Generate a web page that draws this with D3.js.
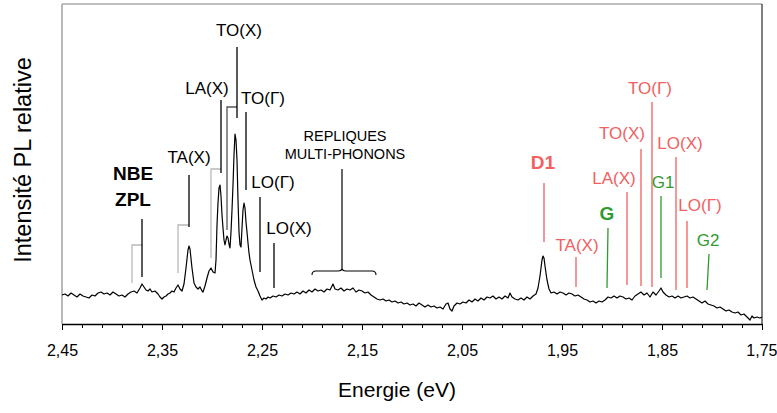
<!DOCTYPE html>
<html><head><meta charset="utf-8">
<script src="https://cdn.jsdelivr.net/npm/d3@7"></script>
<style>
html,body{margin:0;padding:0;background:#fff;}
svg{display:block;font-family:"Liberation Sans",Arial,sans-serif;}
</style></head>
<body>
<svg id="chart" width="777" height="413"></svg>
<script>
// ---- DATA ----
// Energy (eV), relative PL intensity (arbitrary units)
const spectrum = [
[2.450,29],[2.447,30],[2.444,28],[2.441,31],[2.438,29],[2.435,27],[2.432,30],[2.429,28],[2.426,27],[2.423,26],
[2.420,29],[2.417,28],[2.414,31],[2.411,32],[2.408,30],[2.405,31],[2.402,29],[2.399,32],[2.396,30],[2.393,28],
[2.390,29],[2.387,27],[2.384,30],[2.381,32],[2.378,33],[2.375,31],[2.372,36],[2.370,40],[2.368,37],[2.366,34],
[2.364,33],[2.362,35],[2.360,32],[2.357,33],[2.354,30],[2.352,27],[2.350,25],[2.348,27],[2.346,28],[2.344,30],
[2.342,31],[2.340,33],[2.338,32],[2.336,36],[2.334,39],[2.332,35],[2.330,33],[2.328,40],[2.326,56],[2.324,74],
[2.323,78],[2.322,75],[2.320,56],[2.318,41],[2.316,37],[2.314,35],[2.312,37],[2.310,33],[2.309,32],[2.307,38],
[2.305,46],[2.303,53],[2.301,56],[2.299,52],[2.297,51],[2.296,64],[2.295,99],[2.294,121],[2.293,136],[2.292,139],
[2.291,128],[2.290,109],[2.289,96],[2.288,84],[2.287,79],[2.286,84],[2.285,88],[2.284,86],[2.283,80],[2.282,76],
[2.281,92],[2.280,114],[2.279,139],[2.278,169],[2.277,190],[2.276,184],[2.275,164],[2.274,124],[2.273,92],[2.272,79],
[2.271,77],[2.270,96],[2.269,114],[2.268,121],[2.267,116],[2.266,102],[2.265,92],[2.264,81],[2.263,71],[2.262,64],
[2.260,54],[2.258,44],[2.256,37],[2.254,33],[2.252,28],[2.250,24],[2.248,26],[2.246,25],[2.244,27],[2.242,26],
[2.239,28],[2.236,27],[2.233,29],[2.230,28],[2.227,30],[2.224,29],[2.221,31],[2.218,30],[2.215,32],[2.212,30],
[2.209,33],[2.206,31],[2.203,34],[2.200,32],[2.197,35],[2.194,33],[2.191,34],[2.188,32],[2.185,35],[2.182,34],
[2.179,40],[2.177,35],[2.174,34],[2.171,36],[2.168,33],[2.165,35],[2.162,34],[2.159,36],[2.156,32],[2.153,34],
[2.150,33],[2.147,31],[2.144,32],[2.141,29],[2.138,27],[2.135,25],[2.132,24],[2.129,25],[2.126,23],[2.123,24],
[2.120,22],[2.117,23],[2.114,21],[2.111,22],[2.108,20],[2.105,21],[2.102,19],[2.099,20],[2.096,18],[2.093,21],
[2.090,19],[2.087,17],[2.084,19],[2.081,17],[2.078,18],[2.075,16],[2.072,17],[2.069,15],[2.066,20],[2.064,21],
[2.062,15],[2.060,13],[2.058,18],[2.055,21],[2.052,20],[2.049,22],[2.046,21],[2.043,24],[2.040,22],[2.037,25],
[2.034,23],[2.031,26],[2.028,24],[2.025,27],[2.022,26],[2.019,28],[2.016,25],[2.013,27],[2.010,25],[2.007,28],
[2.004,26],[2.002,31],[2.000,27],[1.997,25],[1.994,24],[1.991,26],[1.988,24],[1.985,27],[1.982,25],[1.979,28],
[1.976,30],[1.974,36],[1.972,48],[1.970,64],[1.969,68],[1.968,66],[1.967,58],[1.965,44],[1.963,35],[1.961,31],
[1.958,32],[1.955,30],[1.952,32],[1.949,31],[1.946,29],[1.943,31],[1.940,30],[1.937,28],[1.934,29],[1.931,27],
[1.928,25],[1.925,24],[1.922,22],[1.919,23],[1.916,21],[1.913,23],[1.910,22],[1.907,24],[1.904,27],[1.901,26],
[1.898,28],[1.895,26],[1.892,28],[1.889,27],[1.886,25],[1.883,26],[1.880,24],[1.877,28],[1.874,30],[1.871,32],
[1.868,29],[1.865,31],[1.862,27],[1.859,32],[1.856,29],[1.853,33],[1.851,36],[1.849,32],[1.846,29],[1.843,27],
[1.840,28],[1.837,26],[1.834,28],[1.831,26],[1.828,27],[1.825,28],[1.822,26],[1.819,27],[1.816,25],[1.813,23],
[1.810,21],[1.807,23],[1.804,20],[1.801,19],[1.798,18],[1.795,16],[1.792,17],[1.789,15],[1.786,13],[1.783,14],
[1.780,12],[1.777,11],[1.774,12],[1.771,9],[1.768,10],[1.765,7],[1.762,4],[1.760,8],[1.758,6],[1.755,7],
[1.752,6],[1.750,7]
];

const xTicks = [2.45, 2.35, 2.25, 2.15, 2.05, 1.95, 1.85, 1.75];
const xMinorTicks = d3.range(0, 36).map(i => +(2.45 - i * 0.02).toFixed(2));

// Silicon phonon replicas (black group): label, energy of line, top & bottom intensity
const siLabels   = ["NBE\nZPL", "TA(X)", "LA(X)", "TO(X)", "TO(Γ)", "LO(Γ)", "LO(X)"];
const siEnergy   = [2.370, 2.323, 2.291, 2.275, 2.266, 2.252, 2.238];
const siTop      = [105, 149, 224, 277, 212, 127, 81];
const siBottom   = [47, 97, 151, 206, 134, 52, 36];
// brackets linking a replica to its shifted partner
const brEnergy   = [2.380, 2.334, 2.301, 2.285];
const brTarget   = [2.370, 2.323, 2.291, 2.275];
const brTop      = [79, 99, 155, 217];
const brBottom   = [41, 51, 66, 94];

// Multi-phonon replicas
const multiLabel = ["REPLIQUES", "MULTI-PHONONS"];
const multiEnergy = 2.170, multiTop = 155, multiBottom = 56;
const braceRange = [2.200, 2.136];

// Defect lines (red: D1 and its replicas, green: G lines)
const dLabels  = ["D1", "TA(X)", "G", "LA(X)", "TO(X)", "TO(Γ)", "G1", "LO(X)", "LO(Γ)", "G2"];
const dGroup   = ["D", "D", "G", "D", "D", "D", "G", "D", "D", "G"];
const dEnergyTop = [1.968, 1.936, 1.904, 1.885, 1.871, 1.860, 1.851, 1.836, 1.825, 1.803];
const dEnergyBot = [1.968, 1.936, 1.905, 1.885, 1.871, 1.860, 1.851, 1.836, 1.825, 1.805];
const dTop     = [141, 67, 96, 132, 175, 222, 128, 167, 103, 70];
const dBottom  = [82, 37, 36, 39, 38, 37, 46, 34, 36, 34];

// ---- LAYOUT ----
const svg = d3.select("#chart");
const L = 62, R = 762, T = 4, B = 324;
const x = d3.scaleLinear().domain([2.45, 1.75]).range([L, R]);
const y = d3.scaleLinear().domain([0, 320]).range([B, T]);
const RED = "#f2605f", GREEN = "#2f9a2f";

// label centre offsets in px relative to line top (dx, dy)
const siLabelOff = [[-9, -46], [0, -18], [-14, -12], [2, -17], [17, -14], [13, -15], [15, -15]];
const dLabelOff  = [[-1, -21], [1, -12], [-1, -15], [-13, -14], [-19, -16], [-2, -14], [2, -14], [4, -14], [13, -16], [-1, -14]];
const boldSi = [true, false, false, false, false, false, false];
const boldD  = [true, false, true, false, false, false, false, false, false, false];

// frame
svg.append("line").attr("x1", L).attr("x2", L).attr("y1", T).attr("y2", B).attr("stroke", "#8a8a8a").attr("stroke-width", 1.2);
svg.append("line").attr("x1", L).attr("x2", R).attr("y1", T).attr("y2", T).attr("stroke", "#aaaaaa").attr("stroke-width", 1.5);
svg.append("line").attr("x1", R).attr("x2", R).attr("y1", T).attr("y2", B).attr("stroke", "#000").attr("stroke-width", 1);

// x axis
const fmt = d => d3.format(".2f")(d).replace(".", ",");
const gx = svg.append("g").attr("transform", `translate(0,${B})`);
gx.call(d3.axisBottom(x).tickValues(xMinorTicks.filter(v => !xTicks.some(t => Math.abs(t - v) < 1e-6))).tickSize(4).tickSizeOuter(0).tickFormat(""));
gx.select(".domain").remove();
const gx2 = svg.append("g").attr("transform", `translate(0,${B})`);
gx2.call(d3.axisBottom(x).tickValues(xTicks).tickSize(6).tickSizeOuter(0).tickFormat(fmt).tickPadding(15));
gx2.select(".domain").attr("stroke", "#000").attr("stroke-width", 1.3);
svg.selectAll(".tick line").attr("stroke", "#000");
gx2.selectAll("text").attr("font-size", 16).attr("fill", "#000").attr("font-family", "Liberation Sans, Arial, sans-serif");
// keep the last label inside the window
gx2.selectAll(".tick").filter(d => d === 1.75).select("text").attr("text-anchor", "end").attr("x", 15);

// axis titles
svg.append("text").attr("x", 397).attr("y", 397).attr("text-anchor", "middle").attr("font-size", 21).text("Energie (eV)");
svg.append("text").attr("transform", "translate(31,160) rotate(-90)").attr("text-anchor", "middle").attr("font-size", 23.5).text("Intensité PL relative");

// spectrum
svg.append("path").datum(spectrum)
  .attr("d", d3.line().x(d => x(d[0])).y(d => y(d[1])))
  .attr("fill", "none").attr("stroke", "#000").attr("stroke-width", 1.2).attr("stroke-linejoin", "round");

// brackets (gray)
brEnergy.forEach((e, i) => {
  const col = i === 3 ? "#555" : "#b8b8b8";
  svg.append("path")
    .attr("d", `M${x(e)},${y(brBottom[i])}V${y(brTop[i])}H${x(brTarget[i])}`)
    .attr("fill", "none").attr("stroke", col).attr("stroke-width", 1.3);
});

// Si annotation lines and labels
siLabels.forEach((lab, i) => {
  svg.append("line").attr("x1", x(siEnergy[i])).attr("x2", x(siEnergy[i]))
    .attr("y1", y(siTop[i])).attr("y2", y(siBottom[i])).attr("stroke", "#000").attr("stroke-width", 1.3);
  const lines = lab.split("\n");
  const cx = x(siEnergy[i]) + siLabelOff[i][0], cy = y(siTop[i]) + siLabelOff[i][1];
  lines.forEach((t, k) => {
    svg.append("text").attr("x", cx).attr("y", cy + k * 26).attr("dy", "0.35em")
      .attr("text-anchor", "middle").attr("font-size", boldSi[i] ? 19 : 17)
      .attr("font-weight", boldSi[i] ? "bold" : "normal").attr("fill", "#000").text(t);
  });
});

// multi-phonon annotation
svg.append("line").attr("x1", x(multiEnergy)).attr("x2", x(multiEnergy))
  .attr("y1", y(multiTop)).attr("y2", y(multiBottom)).attr("stroke", "#000").attr("stroke-width", 1.2);
{
  const x0 = x(braceRange[0]), x1 = x(braceRange[1]), xm = x(multiEnergy), yb = y(multiBottom);
  svg.append("path")
    .attr("d", `M${x0},${yb + 7}Q${x0},${yb + 3} ${x0 + 4},${yb + 3}H${xm - 4}Q${xm},${yb + 3} ${xm},${yb}Q${xm},${yb + 3} ${xm + 4},${yb + 3}H${x1 - 4}Q${x1},${yb + 3} ${x1},${yb + 7}`)
    .attr("fill", "none").attr("stroke", "#000").attr("stroke-width", 1.1);
}
multiLabel.forEach((t, k) => {
  svg.append("text").attr("x", x(multiEnergy) + 3).attr("y", y(multiTop) - 33 + k * 18).attr("dy", "0.35em")
    .attr("text-anchor", "middle").attr("font-size", 14.5).attr("fill", "#000").text(t);
});

// defect annotations
dLabels.forEach((lab, i) => {
  const col = dGroup[i] === "D" ? RED : GREEN;
  svg.append("line").attr("x1", x(dEnergyTop[i])).attr("x2", x(dEnergyBot[i]))
    .attr("y1", y(dTop[i])).attr("y2", y(dBottom[i])).attr("stroke", col).attr("stroke-width", 1.3);
  svg.append("text").attr("x", x(dEnergyTop[i]) + dLabelOff[i][0]).attr("y", y(dTop[i]) + dLabelOff[i][1]).attr("dy", "0.35em")
    .attr("text-anchor", "middle").attr("font-size", boldD[i] ? 19 : 17)
    .attr("font-weight", boldD[i] ? "bold" : "normal").attr("fill", col).text(lab);
});
</script>
</body></html>
